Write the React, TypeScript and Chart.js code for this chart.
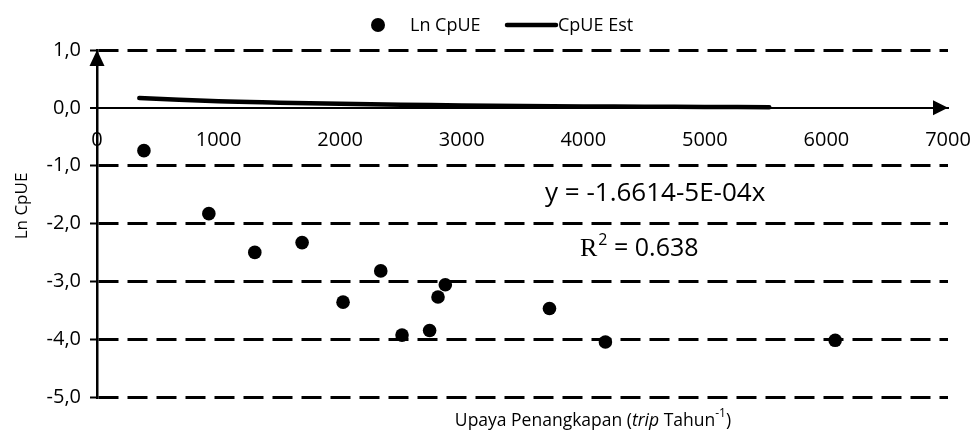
import { useEffect, useRef } from "react";
import { Chart, registerables } from "chart.js";

Chart.register(...registerables);

// Observed effort (trips per year) and ln CpUE
const effort = [386, 920, 1298, 1687, 2024, 2334, 2509, 2736, 2805, 2865, 3722, 4182, 6072];
const lnCpue = [-0.74, -1.83, -2.5, -2.33, -3.36, -2.82, -3.93, -3.85, -3.27, -3.06, -3.47, -4.05, -4.02];

// Estimated CpUE curve
const estEffort = [348, 1000, 1500, 2000, 2500, 3000, 3500, 4000, 4500, 5000, 5530];
const estCpue = [0.17, 0.115, 0.09, 0.07, 0.055, 0.04, 0.03, 0.025, 0.02, 0.015, 0.012];

// Axis ranges
const xRange = [0, 7000];
const xStep = 1000;
const yRange = [-5, 1];
const yStep = 1;

const seriesNames = ["Ln CpUE", "CpUE Est"];
const equationText = "y = -1.6614-5E-04x";
const r2Text = " = 0.638";
const yTitle = "Ln CpUE";

const SANS = '"Open Sans", sans-serif';
const SERIF = '"Liberation Serif", serif';

const decorations = {
  id: "decorations",
  afterDraw(chart: any) {
    const { ctx } = chart;
    const xs = chart.scales.x;
    const ys = chart.scales.y;
    const x0 = xs.getPixelForValue(xRange[0]);
    const xEnd = xs.getPixelForValue(xRange[1]);
    const y0 = ys.getPixelForValue(0);
    const yTop = ys.getPixelForValue(yRange[1]);

    ctx.save();
    ctx.fillStyle = "#000";
    ctx.strokeStyle = "#000";

    // axis arrow heads
    ctx.beginPath();
    ctx.moveTo(x0, yTop);
    ctx.lineTo(x0 - 7.5, yTop + 16);
    ctx.lineTo(x0 + 7.5, yTop + 16);
    ctx.closePath();
    ctx.fill();

    ctx.beginPath();
    ctx.moveTo(xEnd, y0);
    ctx.lineTo(xEnd - 15, y0 - 7.5);
    ctx.lineTo(xEnd - 15, y0 + 7.5);
    ctx.closePath();
    ctx.fill();

    // legend
    ctx.textBaseline = "middle";
    ctx.textAlign = "left";
    ctx.font = `18px ${SANS}`;
    ctx.beginPath();
    ctx.arc(378, 25, 7, 0, Math.PI * 2);
    ctx.fill();
    ctx.fillText(seriesNames[0], 410, 26);
    ctx.lineWidth = 4.5;
    ctx.lineCap = "round";
    ctx.beginPath();
    ctx.moveTo(507, 25);
    ctx.lineTo(556, 25);
    ctx.stroke();
    ctx.fillText(seriesNames[1], 558, 26);

    // regression equation
    ctx.font = `26px ${SANS}`;
    ctx.fillText(equationText, 545, 194);

    // R squared
    let rx = 580;
    ctx.font = `26px ${SERIF}`;
    ctx.fillText("R", rx, 249);
    rx += ctx.measureText("R").width + 1;
    ctx.font = `16px ${SANS}`;
    ctx.fillText("2", rx, 240);
    rx += ctx.measureText("2").width;
    ctx.font = `25px ${SANS}`;
    ctx.fillText(r2Text, rx, 249);

    // x axis title with italic word and superscript
    const parts: [string, string, number][] = [
      ["Upaya Penangkapan (", `17.5px ${SANS}`, 0],
      ["trip", `italic 17.5px ${SANS}`, 0],
      [" Tahun", `17.5px ${SANS}`, 0],
      ["-1", `12px ${SANS}`, -7],
      [")", `17.5px ${SANS}`, 0],
    ];
    let total = 0;
    for (const [t, f] of parts) {
      ctx.font = f;
      total += ctx.measureText(t).width;
    }
    let px = 593 - total / 2;
    for (const [t, f, dy] of parts) {
      ctx.font = f;
      ctx.fillText(t, px, 421 + dy);
      px += ctx.measureText(t).width;
    }

    // y axis title
    ctx.save();
    ctx.translate(22, 206);
    ctx.rotate(-Math.PI / 2);
    ctx.textAlign = "center";
    ctx.font = `17px ${SANS}`;
    ctx.fillText(yTitle, 0, 0);
    ctx.restore();

    ctx.restore();
  },
};

export default function App() {
  const ref = useRef<HTMLCanvasElement>(null);

  useEffect(() => {
    const chart = new Chart(ref.current as HTMLCanvasElement, {
      type: "scatter",
      data: {
        datasets: [
          {
            label: seriesNames[0],
            data: effort.map((x, i) => ({ x, y: lnCpue[i] })),
            backgroundColor: "#000",
            borderWidth: 0,
            pointRadius: 6.8,
            order: 1,
          },
          {
            type: "line",
            label: seriesNames[1],
            data: estEffort.map((x, i) => ({ x, y: estCpue[i] })),
            borderColor: "#000",
            borderWidth: 4.5,
            borderCapStyle: "round",
            pointRadius: 0,
            tension: 0.4,
            fill: false,
            order: 0,
          } as any,
        ],
      },
      options: {
        animation: false,
        responsive: true,
        maintainAspectRatio: false,
        layout: { padding: { top: 50, right: 29, bottom: 37, left: 0 } },
        plugins: {
          legend: { display: false },
          tooltip: { enabled: false },
        },
        scales: {
          x: {
            type: "linear",
            position: { y: 0 } as any,
            min: xRange[0],
            max: xRange[1],
            afterFit: (scale: any) => {
              scale.paddingLeft = 0;
              scale.paddingRight = 0;
            },
            ticks: {
              stepSize: xStep,
              color: "#000",
              font: { family: SANS, size: 20 },
              padding: 20,
              maxRotation: 0,
              autoSkip: false,
              callback: (v: any) => String(v),
            },
            grid: { display: true, drawOnChartArea: false, drawTicks: false },
            border: { display: true, color: "#000", width: 2 },
          },
          y: {
            type: "linear",
            min: yRange[0],
            max: yRange[1],
            afterFit: (scale: any) => {
              scale.width = 97;
            },
            ticks: {
              stepSize: yStep,
              color: "#000",
              font: { family: SANS, size: 20 },
              padding: 9,
              callback: (v: any) => Number(v).toFixed(1).replace(".", ","),
            },
            grid: {
              color: "#000",
              lineWidth: (c: any) => (c.tick && c.tick.value === 0 ? 0 : 3),
              tickLength: 7,
              tickWidth: 2,
              tickColor: "#000",
            },
            border: { display: true, color: "#000", width: 2.5, dash: [20, 9] },
          },
        },
      },
      plugins: [decorations],
    });
    return () => chart.destroy();
  }, []);

  return (
    <div style={{ position: "absolute", left: 0, top: 0, width: 977, height: 434, background: "#fff" }}>
      <canvas ref={ref} />
    </div>
  );
}
